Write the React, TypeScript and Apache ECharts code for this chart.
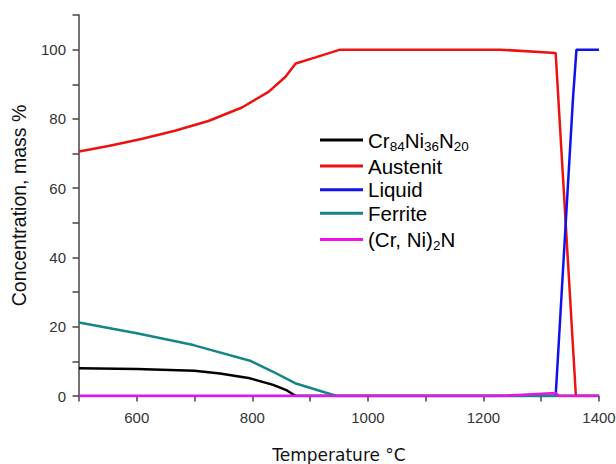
import React, { useEffect, useRef } from "react";
import * as echarts from "echarts";

const crNiN_T = [500, 600, 700, 744, 796, 836, 860, 875, 1400];
const crNiN_V = [8.0, 7.8, 7.3, 6.5, 5.1, 3.2, 1.6, 0, 0];

const austenit_T = [500, 551, 608, 666, 724, 782, 828, 857, 875, 908, 952, 1229, 1325, 1360, 1400];
const austenit_V = [70.6, 72.2, 74.2, 76.6, 79.4, 83.3, 87.8, 92.1, 96.0, 97.7, 100, 100, 99.0, 0, 0];

const liquid_T = [500, 1325, 1355, 1361, 1400];
const liquid_V = [0, 0, 86, 100, 100];

const ferrite_T = [500, 600, 698, 796, 836, 874, 946, 1400];
const ferrite_V = [21.2, 18.1, 14.7, 10.2, 7.0, 3.7, 0, 0];

const nitride_T = [500, 1229, 1325, 1331, 1400];
const nitride_V = [0, 0, 0.9, 0, 0];

const seriesNames = ["Cr84Ni36N20", "Austenit", "Liquid", "Ferrite", "(Cr, Ni)2N"];
const seriesColors = ["#000000", "#ee1111", "#1111ee", "#168585", "#ee11ee"];
const xTicks = [600, 800, 1000, 1200, 1400];
const yTicks = [0, 20, 40, 60, 80, 100];

const legendRich: Record<string, string> = {
  "Cr84Ni36N20": "{n|Cr}{s|84}{n|Ni}{s|36}{n|N}{s|20}",
  "Austenit": "{n|Austenit}",
  "Liquid": "{n|Liquid}",
  "Ferrite": "{n|Ferrite}",
  "(Cr, Ni)2N": "{n|(Cr, Ni)}{s|2}{n|N}",
};

function pairs(t: number[], v: number[]) {
  return t.map((x, i) => [x, v[i]]);
}

export default function App() {
  const ref = useRef<HTMLDivElement>(null);
  useEffect(() => {
    if (!ref.current) return;
    const chart = echarts.init(ref.current, null, { renderer: "svg" });
    const data = [
      pairs(crNiN_T, crNiN_V),
      pairs(austenit_T, austenit_V),
      pairs(liquid_T, liquid_V),
      pairs(ferrite_T, ferrite_V),
      pairs(nitride_T, nitride_V),
    ];
    const axisColor = "#444";
    chart.setOption({
      animation: false,
      grid: { left: 79, right: 17, top: 15, bottom: 68, containLabel: false, outerBoundsMode: "none" },
      legend: {
        orient: "vertical",
        left: 320,
        top: 127,
        padding: 0,
        icon: "rect",
        itemWidth: 43,
        itemHeight: 3,
        itemGap: 2.6,
        data: seriesNames,
        formatter: (name: string) => legendRich[name] || name,
        textStyle: {
          fontFamily: "Liberation Sans",
          fontSize: 20.5,
          color: "#000",
          rich: {
            n: { fontFamily: "Liberation Sans", fontSize: 20.5, color: "#000", lineHeight: 21 },
            s: { fontFamily: "Liberation Sans", fontSize: 13.5, color: "#000", lineHeight: 13, padding: [12, 0, 0, 0] },
          },
        },
      },
      xAxis: {
        type: "value",
        min: 500,
        max: 1400,
        interval: 100,
        name: "Temperature °C",
        nameLocation: "middle",
        nameGap: 50,
        nameTextStyle: { fontFamily: "DejaVu Sans", fontSize: 17, color: "#111" },
        axisLine: { show: true, lineStyle: { color: axisColor, width: 1.5 } },
        axisTick: { show: true, length: 5.5, lineStyle: { color: axisColor, width: 1.5 } },
        axisLabel: {
          fontFamily: "Liberation Sans",
          fontSize: 15,
          color: "#333",
          margin: 14,
          formatter: (v: number) => (xTicks.includes(v) ? String(v) : ""),
        },
        splitLine: { show: false },
      },
      yAxis: {
        type: "value",
        min: 0,
        max: 110,
        interval: 10,
        name: "Concentration, mass %",
        nameLocation: "middle",
        nameGap: 50,
        nameTextStyle: { fontFamily: "Liberation Sans", fontSize: 19.5, color: "#111" },
        axisLine: { show: true, lineStyle: { color: axisColor, width: 1.5 } },
        axisTick: { show: true, length: 6.5, lineStyle: { color: axisColor, width: 1.5 } },
        axisLabel: {
          fontFamily: "Liberation Sans",
          fontSize: 15,
          color: "#333",
          margin: 13,
          formatter: (v: number) => (yTicks.includes(v) ? String(v) : ""),
        },
        splitLine: { show: false },
      },
      series: seriesNames.map((name, i) => ({
        name,
        type: "line",
        data: data[i],
        showSymbol: false,
        symbol: "none",
        smooth: false,
        color: seriesColors[i],
        lineStyle: { color: seriesColors[i], width: 2.5 },
        z: 2 + i,
      })),
    });
    return () => chart.dispose();
  }, []);
  return (
    <div
      ref={ref}
      style={{ position: "fixed", left: 0, top: 0, width: 616, height: 464, background: "#fff" }}
    />
  );
}
